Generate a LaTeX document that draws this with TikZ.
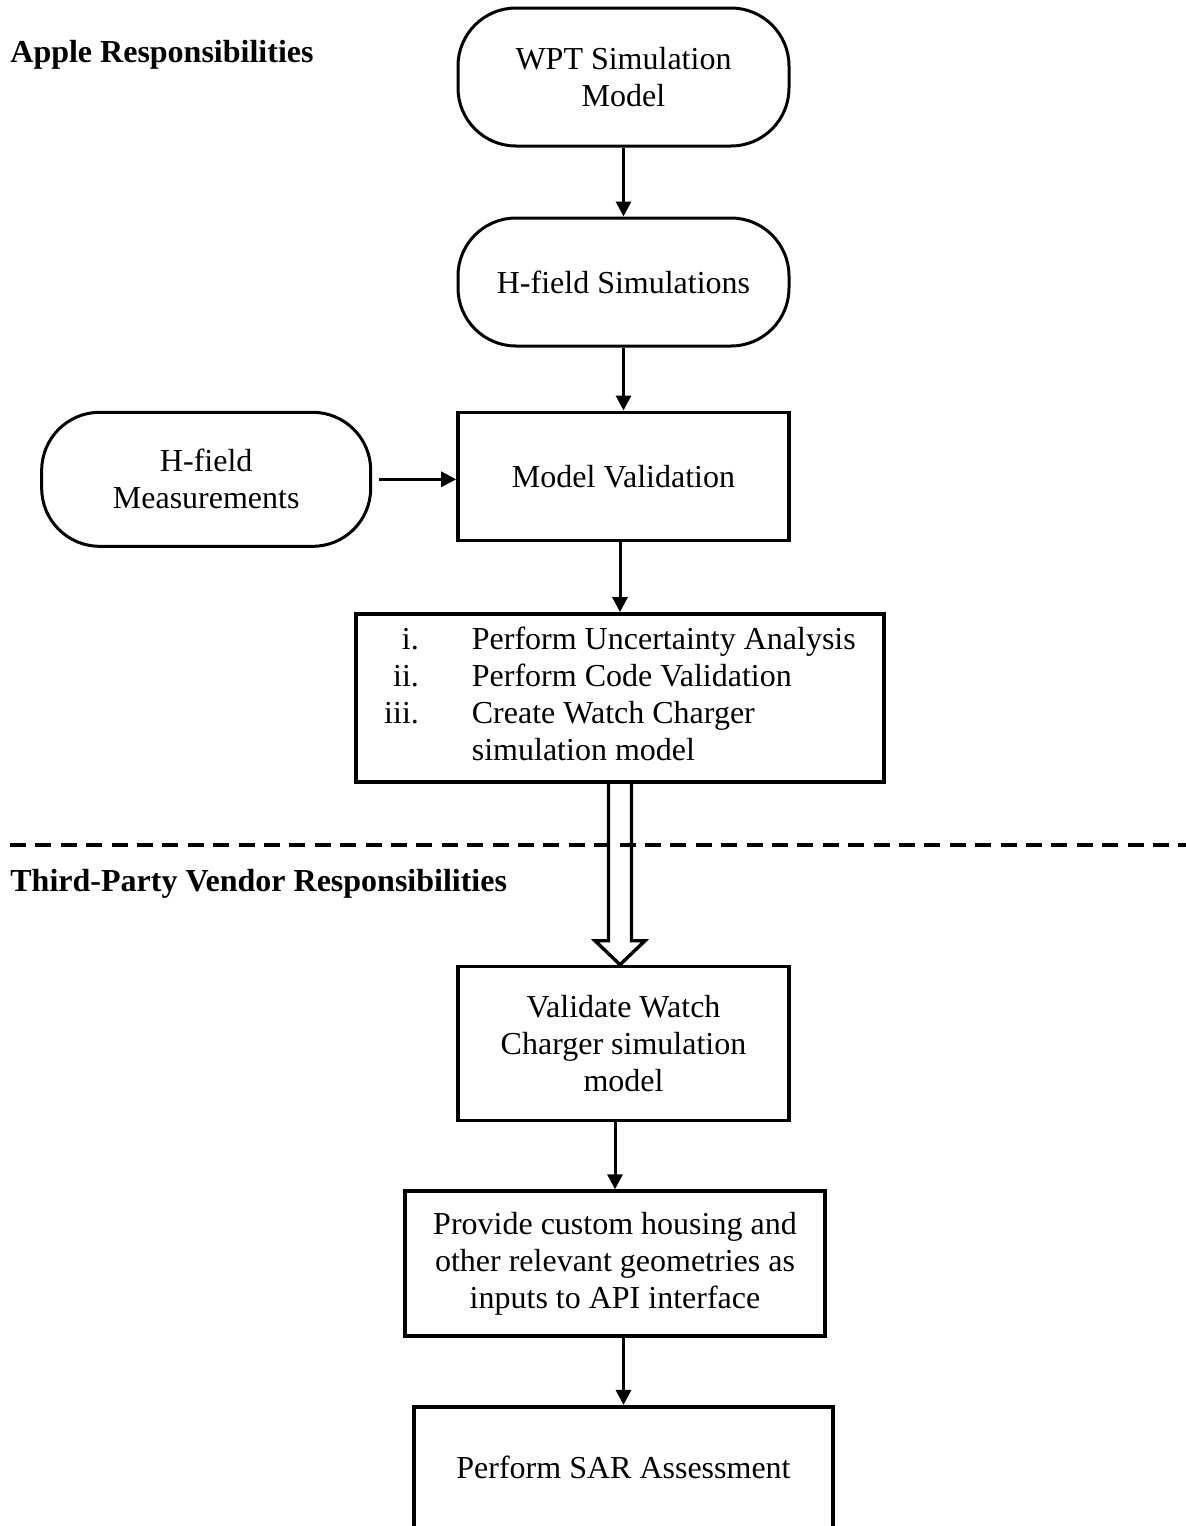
\documentclass[tikz,border=0pt]{standalone}
\usepackage{fontspec}
\setmainfont{Liberation Serif}
\usetikzlibrary{arrows.meta,positioning,calc}
\tikzset{
  txt/.style={font=\fontsize{16}{18.5}\selectfont, align=center, inner sep=0pt},
  box/.style={txt, rectangle, draw=black, line width=1.8pt},
  term/.style={txt, rectangle, rounded corners=29pt, draw=black, line width=1.5pt},
  head/.style={font=\fontsize{16}{18.5}\selectfont\bfseries, anchor=base west, inner sep=0pt},
  fl/.style={-{Triangle[length=7.5pt,width=7.5pt]}, draw=black, line width=1.5pt},
  hollow/.style={draw=black, line width=1.7pt, line join=miter},
  sep/.style={draw=black, line width=2pt, dash pattern=on 8pt off 4.7pt}
}

\begin{document}
\begin{tikzpicture}
  \useasboundingbox (0,0) rectangle (593pt,-763pt);
  % Apple side
  \node[head] (apple) at (5pt,-31pt) {Apple Responsibilities};
  \node[term, minimum width=165.5pt, minimum height=69pt] (wpt) at (311.75pt,-38.5pt) {WPT Simulation\\Model};
  \node[term, minimum width=165.5pt, minimum height=64pt, below=34.5pt of wpt] (hsim) {H-field Simulations};
  \node[box, minimum width=165.5pt, minimum height=64pt, below=31.5pt of hsim] (val) {Model Validation};
  \node[term, minimum width=164.5pt, minimum height=67pt, left=42pt of val, yshift=-1.5pt] (hmeas) {H-field\\Measurements};
  \node[box, minimum width=264pt, minimum height=84pt, below=35pt of val, xshift=-1.75pt] (tasks)
    {\begin{tabular}{@{}r@{\hspace{26.5pt}}l@{}}
      i. & Perform Uncertainty Analysis\\
      ii. & Perform Code Validation\\
      iii. & Create Watch Charger\\
       & simulation model
    \end{tabular}};
  % separator
  \coordinate (sepL) at (5pt,-422.7pt);
  \coordinate (sepR) at (593pt,-422.7pt);
  \draw[sep] (sepL) -- (sepR);
  % vendor side
  \node[head] (vendor) at (5pt,-445.5pt) {Third-Party Vendor Responsibilities};
  \node[box, minimum width=165.5pt, minimum height=77pt, below=90.5pt of tasks, xshift=1.75pt] (vwc) {Validate Watch\\Charger simulation\\model};
  \node[box, minimum width=210pt, minimum height=72.5pt, below=33.5pt of vwc, xshift=-4.25pt] (prov) {Provide custom housing and\\other relevant geometries as\\inputs to API interface};
  \node[box, minimum width=209.5pt, minimum height=61pt, below=33.5pt of prov, xshift=4.25pt] (sar) {Perform SAR Assessment};
  % connectors
  \foreach \a/\b in {wpt/hsim,hsim/val,val/tasks,vwc/prov,prov/sar}
    \draw[fl] (\b.north |- \a.south) -- (\b.north);
  \draw[fl, shorten <=3.5pt] (hmeas.east) -- (hmeas.east -| val.west);
  \draw[hollow] ($(tasks.south)+(-5.75pt,0)$) -- ($(tasks.south |- vwc.north)+(-5.75pt,12pt)$)
    -- ($(tasks.south |- vwc.north)+(-12.5pt,12pt)$) -- (tasks.south |- vwc.north)
    -- ($(tasks.south |- vwc.north)+(12.5pt,12pt)$) -- ($(tasks.south |- vwc.north)+(5.75pt,12pt)$)
    -- ($(tasks.south)+(5.75pt,0)$);
\end{tikzpicture}
\end{document}
